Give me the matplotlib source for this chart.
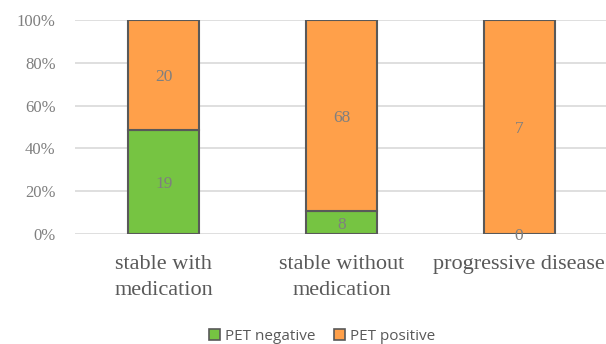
import matplotlib
matplotlib.use("Agg")
import matplotlib.pyplot as plt
import numpy as np
from matplotlib.ticker import PercentFormatter
from matplotlib.patches import Patch

categories = ["stable with\nmedication", "stable without\nmedication", "progressive disease"]
pet_negative = [19, 8, 0]
pet_positive = [20, 68, 7]
series_names = ["PET negative", "PET positive"]

green = "#76c442"
orange = "#ffa04a"
edge = "#595959"
label_gray = "#7f7f7f"

neg = np.array(pet_negative, dtype=float)
pos = np.array(pet_positive, dtype=float)
total = neg + pos
neg_pct = neg / total * 100
pos_pct = pos / total * 100

fig = plt.figure(figsize=(6.06, 3.44), dpi=100)
ax = fig.add_axes([75 / 606, 1 - 234 / 344, (608 - 75) / 606, (234 - 20) / 344])

x = np.arange(len(categories))
w = 0.4
ax.bar(x, neg_pct, width=w, color=green, edgecolor=edge, linewidth=1.5, zorder=3)
ax.bar(x, pos_pct, width=w, bottom=neg_pct, color=orange, edgecolor=edge, linewidth=1.5, zorder=3)

serif = ["Liberation Serif", "DejaVu Serif"]
for i in range(len(x)):
    ax.text(x[i], neg_pct[i] / 2, f"{pet_negative[i]}", ha="center", va="center_baseline",
            color=label_gray, fontsize=12.5, family=serif, zorder=4)
    ax.text(x[i], neg_pct[i] + pos_pct[i] / 2, f"{pet_positive[i]}", ha="center",
            va="center_baseline", color=label_gray, fontsize=12.5, family=serif, zorder=4)

ax.set_xlim(-0.5, 2.5)
ax.set_ylim(0, 100)
ax.set_yticks(np.arange(0, 101, 20))
ax.yaxis.set_major_formatter(PercentFormatter(decimals=0))
ax.grid(axis="y", color="#d9d9d9", linewidth=1.2, zorder=0)
for s in ax.spines.values():
    s.set_visible(False)
ax.tick_params(axis="both", length=0)
ax.set_xticks(x)
ax.set_xticklabels(categories, family=serif, fontsize=16, color="#595959", linespacing=1.5)
ax.tick_params(axis="x", pad=15)
for t in ax.get_yticklabels():
    t.set_family(serif)
    t.set_fontsize(12)
    t.set_color(label_gray)
ax.tick_params(axis="y", pad=14)

handles = [Patch(facecolor=green, edgecolor=edge, linewidth=1.2),
           Patch(facecolor=orange, edgecolor=edge, linewidth=1.2)]
leg = fig.legend(handles, series_names, loc="center", bbox_to_anchor=(322 / 606, 1 - 336 / 344),
                 ncol=2, frameon=False, handlelength=0.75, handleheight=0.75,
                 handletextpad=0.3, columnspacing=1.2,
                 prop={"family": ["Open Sans", "DejaVu Sans"], "size": 11})
for t in leg.get_texts():
    t.set_color("#595959")

fig.savefig("out.png", dpi=100)
